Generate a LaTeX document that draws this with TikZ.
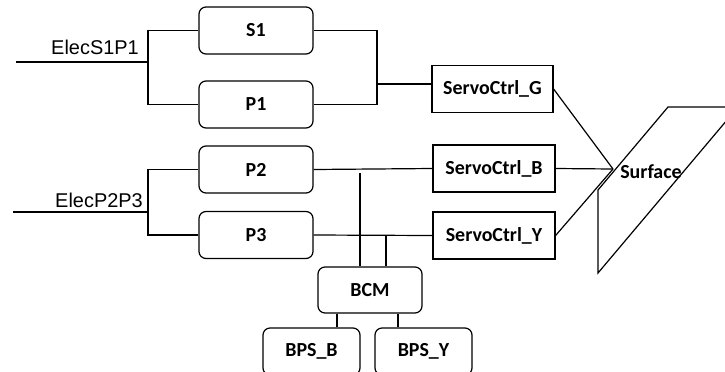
\documentclass[tikz,border=0pt]{standalone}
\usepackage{fontspec}
\setmainfont{Carlito}
\newfontfamily\arialfont{Liberation Sans}
\usetikzlibrary{calc}

\begin{document}
\begin{tikzpicture}[x=1bp, y=-1bp, line width=1.2bp,
        blk/.style={draw, rounded corners=7bp, minimum width=114bp, minimum height=47bp, inner sep=0pt, font=\fontsize{20}{24}\selectfont\bfseries},
        ctrl/.style={draw, minimum width=121bp, minimum height=47bp, inner sep=0pt, font=\fontsize{20}{24}\selectfont\bfseries},
        elec/.style={inner sep=0pt, font=\fontsize{20}{24}\selectfont\arialfont}]

        \useasboundingbox (0,0) rectangle (725,371);
        \clip (0,0) rectangle (725,371);

        % ==================== 左侧: 电源与作动器 ====================
        \node[blk] (S1) at (256,30.5) {S1};
        \node[blk] (P1) at (256,104.5) {P1};
        \node[blk] (P2) at (256,169.5) {P2};
        \node[blk] (P3) at (256,235) {P3};

        % 电源输入线
        \coordinate (in1) at (16,62);
        \coordinate (j1) at (148,62);
        \node[elec] (e1) at (95,47) {ElecS1P1};
        \draw (in1) -- (j1);
        \draw (S1.west) -| (j1) |- (P1.west);

        \coordinate (in2) at (13,212);
        \coordinate (j2) at (148,212);
        \node[elec] (e2) at (99,200) {ElecP2P3};
        \draw (in2) -- (j2);
        \draw (P2.west) -| (j2) |- (P3.west);

        % ==================== 中间: 伺服控制 ====================
        \node[ctrl] (SG) at (492.5,89) {ServoCtrl\_G};
        \node[ctrl, minimum width=122bp] (SB) at (494,168.5) {ServoCtrl\_B};
        \node[ctrl, minimum width=122bp] (SY) at (494,235.5) {ServoCtrl\_Y};

        \coordinate (j3) at (377,84);
        \draw (S1.east) -| (j3) |- (P1.east);
        \draw (j3) -- (j3 -| SG.west);
        \draw (P2.east) -- (SB.west);
        \draw (P3.east) -- (SY.west);

        % ==================== 下方: BCM 与电池 ====================
        \node[blk, minimum width=104bp, minimum height=46bp] (BCM) at (370,290) {BCM};
        \node[blk, minimum width=97bp] (BPSB) at (311.5,351.5) {BPS\_B};
        \node[blk, minimum width=97bp] (BPSY) at (423.5,351.5) {BPS\_Y};

        \coordinate (t1) at (360,173);
        \coordinate (t2) at (386,235);
        \draw (t1) -- (t1 |- BCM.north);
        \draw (t2) -- (t2 |- BCM.north);
        \coordinate (u1) at (337,0);
        \coordinate (u2) at (398,0);
        \draw (u1 |- BCM.south) -- (u1 |- BPSB.north);
        \draw (u2 |- BCM.south) -- (u2 |- BPSY.north);

        % ==================== 右侧: 舵面 ====================
        \draw (598,190) -- (668,107) -- (738,107) -- (598,273) -- cycle;
        \node[inner sep=0pt, font=\fontsize{20}{24}\selectfont\bfseries] (surf) at (651,172) {Surface};
        \coordinate (m) at (613,169);
        \draw (SG.east) -- (m);
        \draw (SB.east) -- (m);
        \draw (SY.east) -- (m);

    \end{tikzpicture}
\end{document}
